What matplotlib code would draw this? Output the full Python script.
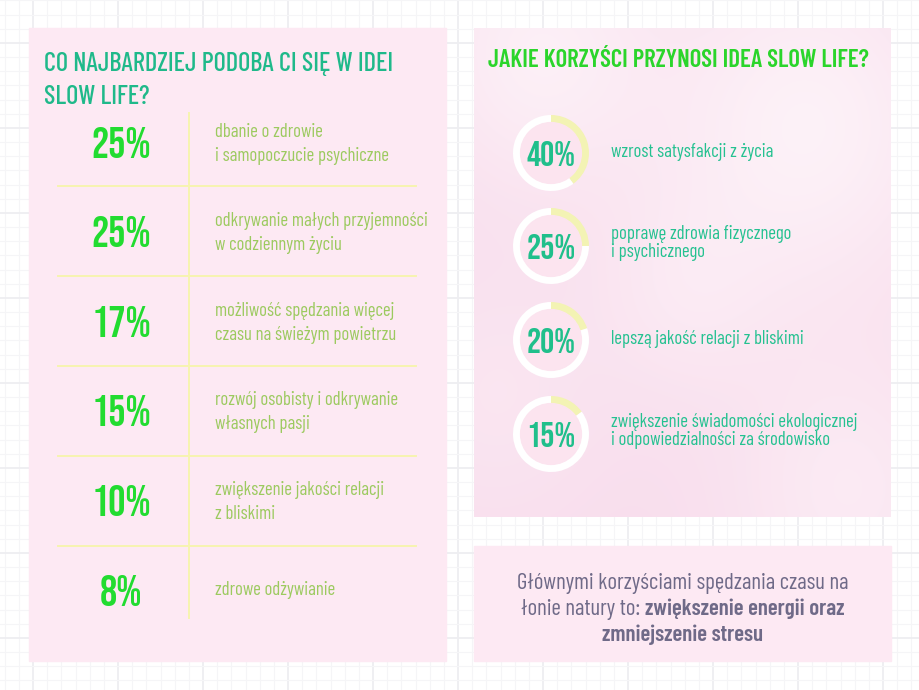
import numpy as np
import matplotlib
matplotlib.use('Agg')
import matplotlib.pyplot as plt
from matplotlib.patches import Rectangle, Circle

# ---- data ----
left_title = ["CO NAJBARDZIEJ PODOBA CI SIĘ W IDEI", "SLOW LIFE?"]
left_pcts = [25, 25, 17, 15, 10, 8]
left_labels = [
    ["dbanie o zdrowie", "i samopoczucie psychiczne"],
    ["odkrywanie małych przyjemności", "w codziennym życiu"],
    ["możliwość spędzania więcej", "czasu na świeżym powietrzu"],
    ["rozwój osobisty i odkrywanie", "własnych pasji"],
    ["zwiększenie jakości relacji", "z bliskimi"],
    ["zdrowe odżywianie"],
]

right_title = "JAKIE KORZYŚCI PRZYNOSI IDEA SLOW LIFE?"
right_pcts = [40, 25, 20, 15]
right_labels = [
    ["wzrost satysfakcji z życia"],
    ["poprawę zdrowia fizycznego", "i psychicznego"],
    ["lepszą jakość relacji z bliskimi"],
    ["zwiększenie świadomości ekologicznej", "i odpowiedzialności za środowisko"],
]

note_plain_1 = "Głównymi korzyściami spędzania czasu na"
note_plain_2 = "łonie natury to:"
note_bold_2 = "zwiększenie energii oraz"
note_bold_3 = "zmniejszenie stresu"

# ---- style ----
W, H = 920, 690
PANEL = '#fde9f3'
LINE = '#f6f4b0'
TEAL = '#1fb98a'
GREEN = '#22dc30'
OLIVE = '#9cca5f'
RING_TXT = '#20bf8b'
RING_DESC = '#24c190'
NOTE = '#6f6a88'
HEAD = ['Bebas Neue', 'Barlow Condensed', 'DejaVu Sans']
TITLE = ['Barlow Condensed', 'DejaVu Sans']
BODY = ['Barlow Condensed', 'Roboto Condensed', 'DejaVu Sans']

fig = plt.figure(figsize=(W / 100, H / 100), dpi=100)
fig.patch.set_facecolor('white')
ax = fig.add_axes([0, 0, 1, 1])
ax.set_xlim(0, W)
ax.set_ylim(H, 0)
ax.axis('off')

# faint background grid
step = 85 / 6
for i, x in enumerate(np.arange(33 - 2 * 85, W + 1, step)):
    major = i % 6 == 0
    ax.plot([x, x], [0, H], color='#eeeef1' if major else '#f5f5f7',
            lw=1.3 if major else 0.8, zorder=0)
for i, y in enumerate(np.arange(43 - 85, H + 1, step)):
    major = i % 6 == 0
    ax.plot([0, W], [y, y], color='#eeeef1' if major else '#f5f5f7',
            lw=1.3 if major else 0.8, zorder=0)

# panels
ax.add_patch(Rectangle((29, 28), 417, 633, color=PANEL, zorder=1))
ax.add_patch(Rectangle((474, 546), 417, 115, color=PANEL, zorder=1))

# soft pink "photo" background for the right panel
gx, gy = np.meshgrid(np.linspace(0, 1, 210), np.linspace(0, 1, 245))
base = np.array([0.975, 0.87, 0.93])
light = np.array([0.995, 0.965, 0.98])
blobs = [(0.8, 0.2, 0.25, 0.8), (0.15, 0.05, 0.2, 0.7), (0.9, 0.95, 0.2, 0.5),
         (0.5, 0.55, 0.15, 0.35), (0.05, 0.75, 0.18, 0.3)]
mix = np.zeros_like(gx)
for bx, by, br, bw in blobs:
    mix += bw * np.exp(-((gx - bx) ** 2 + (gy - by) ** 2) / (2 * br ** 2))
mix = np.clip(mix, 0, 1)[..., None]
img = base * (1 - mix) + light * mix
ax.imshow(img, extent=(474, 891, 517, 28), aspect='auto', zorder=1,
          interpolation='bilinear')

# left table
row_c = [143, 232, 322, 411, 501, 591]
for y in [186, 276, 366, 456, 546]:
    ax.plot([58, 416], [y, y], color=LINE, lw=1.4, zorder=2)
ax.plot([189, 189], [113, 618], color=LINE, lw=1.4, zorder=2)

ax.text(44, 71, left_title[0], family=TITLE, fontsize=19, weight='medium',
        color=TEAL, va='baseline', ha='left', zorder=3)
ax.text(44, 104, left_title[1], family=TITLE, fontsize=19, weight='medium',
        color=TEAL, va='baseline', ha='left', zorder=3)

for yc, p, lab in zip(row_c, left_pcts, left_labels):
    ax.text(121, yc + 15, f"{p}%", family=HEAD, fontsize=31, color=GREEN,
            ha='center', va='baseline', zorder=3)
    offs = [4] if len(lab) == 1 else [-6, 18]
    for o, s in zip(offs, lab):
        ax.text(215, yc + o, s, family=BODY, fontsize=13.5, weight='normal',
                color=OLIVE, ha='left', va='baseline', zorder=3)

# right panel: rings
ax.text(488, 67, right_title, family=TITLE, fontsize=17.9, weight='semibold',
        color='#2bd52b', ha='left', va='baseline', zorder=3)

ring_c = [153, 246, 340, 434]
cx, r = 551, 38
for yc, p, lab in zip(ring_c, right_pcts, right_labels):
    rax = fig.add_axes([(cx - r) / W, 1 - (yc + r) / H, 2 * r / W, 2 * r / H])
    rax.pie([p, 100 - p], colors=['#f3f3b4', 'white'], startangle=90,
            counterclock=False, radius=1,
            wedgeprops=dict(width=0.2, edgecolor='none'))
    rax.add_patch(Circle((0, 0), 0.8, color='#fce4ef', zorder=3))
    rax.set_xlim(-1, 1)
    rax.set_ylim(-1, 1)
    rax.set_aspect('equal')
    rax.axis('off')
    rax.text(0, -0.33, f"{p}%", family=HEAD, fontsize=25.5, color=RING_TXT,
             ha='center', va='baseline', zorder=4)
    offs = [4] if len(lab) == 1 else [-7, 11]
    for o, s in zip(offs, lab):
        ax.text(611, yc + o, s, family=BODY, fontsize=13.5, weight='normal',
                color=RING_DESC, ha='left', va='baseline', zorder=3)

# bottom note
nx = 683
fs = 16.5
ax.text(nx, 589, note_plain_1, family=BODY, fontsize=fs, color=NOTE,
        ha='center', va='baseline', zorder=3)
renderer = fig.canvas.get_renderer()
t1 = ax.text(0, 615, note_plain_2, family=BODY, fontsize=fs, color=NOTE,
             ha='left', va='baseline', zorder=3)
t2 = ax.text(0, 615, note_bold_2, family=BODY, fontsize=fs, color=NOTE,
             weight='semibold', ha='left', va='baseline', zorder=3)
w1 = t1.get_window_extent(renderer).width
w2 = t2.get_window_extent(renderer).width
gap = 5
x0 = nx - (w1 + gap + w2) / 2
t1.set_x(x0)
t2.set_x(x0 + w1 + gap)
ax.text(nx, 641, note_bold_3, family=BODY, fontsize=fs, color=NOTE,
        weight='semibold', ha='center', va='baseline', zorder=3)

fig.savefig('out.png', dpi=100, facecolor='white')
